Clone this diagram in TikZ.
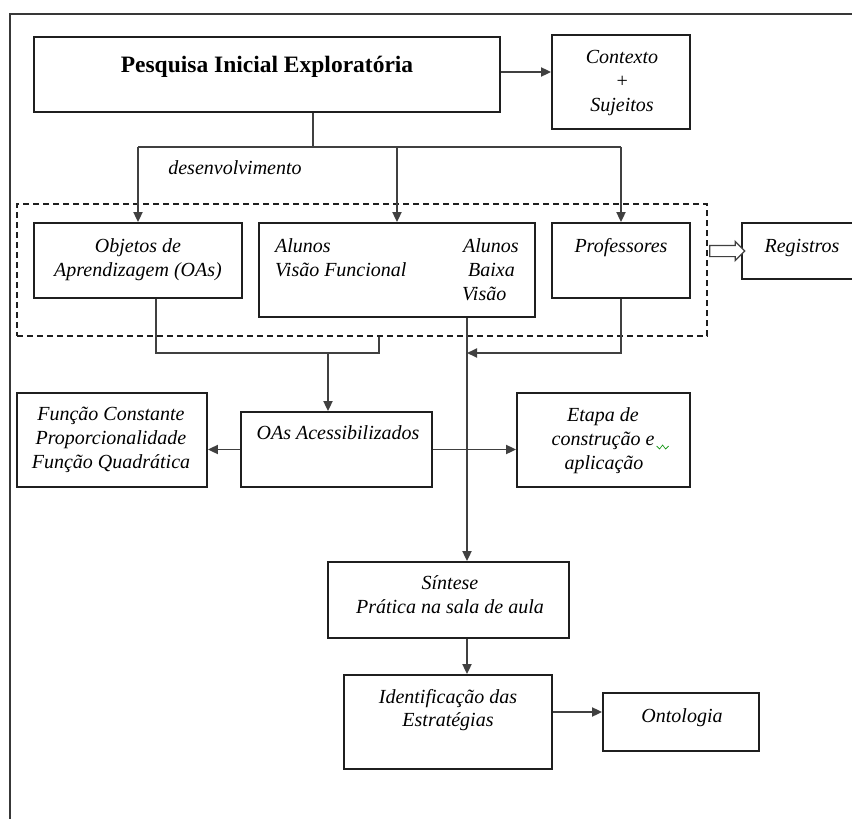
\documentclass[tikz,border=0pt]{standalone}
\usepackage{fontspec}
\setmainfont{Liberation Serif}
\usetikzlibrary{arrows.meta,fit,shapes.arrows,calc}
\begin{document}
\begin{tikzpicture}[x=1pt,y=-1pt,
  bx/.style={draw=black!88, line width=1.8pt, inner sep=0pt, rectangle},
  grpbox/.style={draw=black!88, line width=1.7pt, inner sep=0pt, dash pattern=on 6pt off 4pt},
  ln/.style={draw=black!75, line width=1.8pt},
  arr/.style={ln, -{Triangle[length=10pt,width=9pt]}},
  tx/.style={font=\fontsize{20}{24}\selectfont\itshape, inner sep=0pt, anchor=base, text=black},
  txl/.style={tx, anchor=base west},
  title/.style={font=\fontsize{23.5}{28}\selectfont\bfseries, inner sep=0pt, anchor=base, text=black},
  hollow/.style={single arrow, draw=black!75, fill=white, line width=1.2pt, minimum height=35pt,
    inner sep=5pt, single arrow head extend=4pt, single arrow head indent=0pt}]
\useasboundingbox (0,0) rectangle (852,819);
\clip (0,0) rectangle (852,819);

% page frame
\draw[draw=black!78, line width=1.8pt] (10,900) -- (10,14) -- (900,14);

% boxes
\node[bx, fit={(34,37) (500,112)}] (pesq) {};
\node[bx, fit={(552,35) (690,129)}] (ctx) {};
\node[grpbox, fit={(17,204) (707,336)}] (grp) {};
\node[bx, fit={(34,223) (242,298)}] (obj) {};
\node[bx, fit={(259,223) (535,317)}] (alu) {};
\node[bx, fit={(552,223) (690,298)}] (prof) {};
\node[bx, fit={(742,223) (880,279)}] (reg) {};
\node[bx, fit={(17,393) (207,487)}] (fun) {};
\node[bx, fit={(241,412) (432,487)}] (acc) {};
\node[bx, fit={(517,393) (690,487)}] (eta) {};
\node[bx, fit={(328,562) (569,638)}] (syn) {};
\node[bx, fit={(344,675) (552,769)}] (idn) {};
\node[bx, fit={(603,693) (759,751)}] (ont) {};

% texts
\node[title] (tpesq) at (267,72) {Pesquisa Inicial Exploratória};
\node[tx] (tctx1) at (622,63) {Contexto};
\node[tx] (tctx2) at (622,87) {+};
\node[tx] (tctx3) at (622,111) {Sujeitos};
\node[tx] (tdev) at (235,174) {desenvolvimento};
\node[tx] (tobj1) at (138,252) {Objetos de};
\node[tx] (tobj2) at (138,276) {Aprendizagem (OAs)};
\node[txl] (talu1) at (275,252) {Alunos};
\node[txl] (talu2) at (275,276) {Visão Funcional};
\node[txl] (talu3) at (463,252) {Alunos};
\node[txl] (talu4) at (468,276) {Baixa};
\node[txl] (talu5) at (462,300) {Visão};
\node[tx] (tprof) at (621,252) {Professores};
\node[tx] (treg) at (802,252) {Registros};
\node[tx] (tfun1) at (111,420) {Função Constante};
\node[tx] (tfun2) at (111,444) {Proporcionalidade};
\node[tx] (tfun3) at (111,468) {Função Quadrática};
\node[tx] (tacc) at (338,439) {OAs Acessibilizados};
\node[tx] (teta1) at (603,421) {Etapa de};
\node[tx] (teta2) at (603,445) {construção e};
\node[tx] (teta3) at (604,469) {aplicação};
\node[tx] (tsyn1) at (450,589) {Síntese};
\node[tx] (tsyn2) at (450,613) {Prática na sala de aula};
\node[tx] (tidn1) at (448,703) {Identificação das};
\node[tx] (tidn2) at (448,726) {Estratégias};
\node[tx] (tont) at (682,722) {Ontologia};

% grammar-check squiggle after "construção e"
\draw[green!55!black, line width=0.6pt] ($(teta2.base east)+(2,1)$) -- ++(3,3) -- ++(3,-4) -- ++(3,4) -- ++(3,-3);

% junction points
\coordinate (br) at (313,147);
\coordinate (j1) at (156,353);
\coordinate (j2) at (379,353);
\coordinate (j3) at (328,353);
\coordinate (v) at (467,353);
\coordinate (p1) at ([yshift=2.5pt]pesq.east);
\coordinate (p2) at ([yshift=10pt]idn.east);

% connectors
\draw[arr] (p1) -- (p1 -| ctx.west);
\draw[ln] (pesq.south -| br) -- (br);
\draw[ln] (obj.north |- br) -- (prof.north |- br);
\draw[arr] (obj.north |- br) -- (obj.north);
\draw[arr] (alu.north |- br) -- (alu.north);
\draw[arr] (prof.north |- br) -- (prof.north);

\draw[ln] (obj.south -| j1) -- (j1) -- (j2) -- (grp.south -| j2);
\draw[arr] (j3) -- (acc.north -| j3);
\draw[arr] (alu.south -| v) -- (syn.north -| v);
\draw[arr] (prof.south) -- (prof.south |- v) -- (v);

\draw[arr] (acc.west) -- (acc.west -| fun.east);
\draw[arr] (acc.east) -- (acc.east -| eta.west);
\draw[arr] (syn.south -| v) -- (idn.north -| v);
\draw[arr] (p2) -- (p2 -| ont.west);

% hollow arrow from the group to the records box
\node[hollow] (harr) at ($(grp.east |- reg.west)!0.5!(reg.west)$) {};
\end{tikzpicture}
\end{document}
